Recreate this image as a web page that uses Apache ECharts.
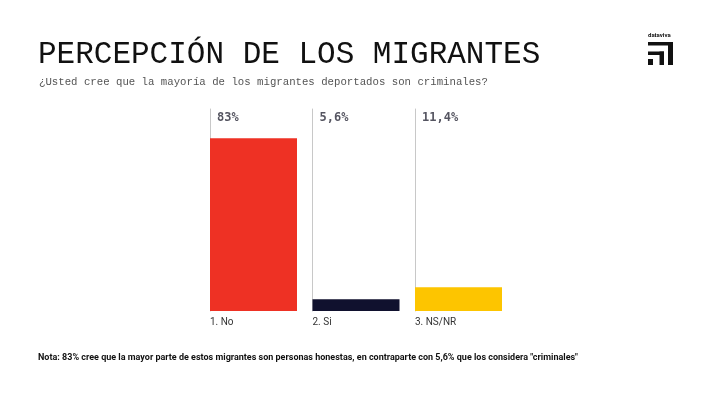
<!DOCTYPE html>
<html>
<head>
<meta charset="utf-8">
<script src="https://cdn.jsdelivr.net/npm/echarts@6/dist/echarts.min.js"></script>
<style>html,body{margin:0;padding:0;background:#fff;}#c{width:710px;height:394px;}</style>
</head>
<body>
<div id="c"></div>
<script>
const categories = ['1. No', '2. Si', '3. NS/NR'];
const values = [83, 5.6, 11.4];
const valueLabels = ['83%', '5,6%', '11,4%'];
const colors = ['#EE3124', '#10112E', '#FDC500'];
const titleText = 'PERCEPCIÓN DE LOS MIGRANTES';
const subtitleText = '¿Usted cree que la mayoría de los migrantes deportados son criminales?';
const noteText = 'Nota: 83% cree que la mayor parte de estos migrantes son personas honestas, en contraparte con 5,6% que los considera "criminales"';

const yMax = 97;
const grids = [], xAxes = [], yAxes = [], series = [];
categories.forEach((cat, i) => {
  grids.push({ left: 210 + i * 102.5, top: 109, width: 87, height: 202 });
  xAxes.push({
    type: 'value', gridIndex: i, min: 0, max: 1,
    axisLine: { show: false }, axisTick: { show: false }, splitLine: { show: false },
    axisLabel: {
      customValues: [0], align: 'left', margin: 6,
      formatter: () => cat,
      fontFamily: 'Roboto', fontSize: 10, color: '#333'
    }
  });
  yAxes.push({
    type: 'value', gridIndex: i, min: 0, max: yMax,
    axisLine: { show: true, lineStyle: { color: '#c8c8c8', width: 1 } },
    axisTick: { show: false }, axisLabel: { show: false }, splitLine: { show: false }
  });
  series.push({
    type: 'bar', xAxisIndex: i, yAxisIndex: i,
    data: [[0.5, values[i]]], barWidth: 87,
    itemStyle: { color: colors[i] }, silent: true
  });
  series.push({
    type: 'scatter', xAxisIndex: i, yAxisIndex: i, clip: false,
    data: [[0, yMax]], symbolSize: 0, silent: true,
    label: {
      show: true, position: [7, 3], formatter: () => valueLabels[i],
      fontFamily: 'DejaVu Sans Mono', fontWeight: 'bold', fontSize: 12, color: '#2a2a3a'
    }
  });
});

const chart = echarts.init(document.getElementById('c'), null, { renderer: 'canvas' });
chart.setOption({
  backgroundColor: '#fff',
  animation: false,
  title: [
    { text: titleText, left: 33, top: 34,
      textStyle: { fontFamily: 'Liberation Mono', fontWeight: 'normal', fontSize: 31, color: '#111' } },
    { text: subtitleText, left: 34, top: 72,
      textStyle: { fontFamily: 'Liberation Mono', fontWeight: 'normal', fontSize: 10.7, color: '#555' } },
    { text: noteText, left: 33, top: 348,
      textStyle: { fontFamily: 'Roboto', fontWeight: 'bold', fontSize: 9, color: '#111' } }
  ],
  grid: grids, xAxis: xAxes, yAxis: yAxes, series: series,
  graphic: [
    { type: 'text', left: 648, top: 32, style: { text: 'dataviva', font: 'bold 6px Roboto', fill: '#111' } },
    { type: 'rect', shape: { x: 648, y: 42, width: 25, height: 3.5 }, style: { fill: '#111' } },
    { type: 'rect', shape: { x: 668, y: 42, width: 5, height: 23 }, style: { fill: '#111' } },
    { type: 'rect', shape: { x: 648, y: 51.5, width: 16, height: 3.5 }, style: { fill: '#111' } },
    { type: 'rect', shape: { x: 659.5, y: 51.5, width: 4.5, height: 13.5 }, style: { fill: '#111' } },
    { type: 'rect', shape: { x: 648, y: 59, width: 5, height: 6 }, style: { fill: '#111' } }
  ]
});
</script>
</body>
</html>
